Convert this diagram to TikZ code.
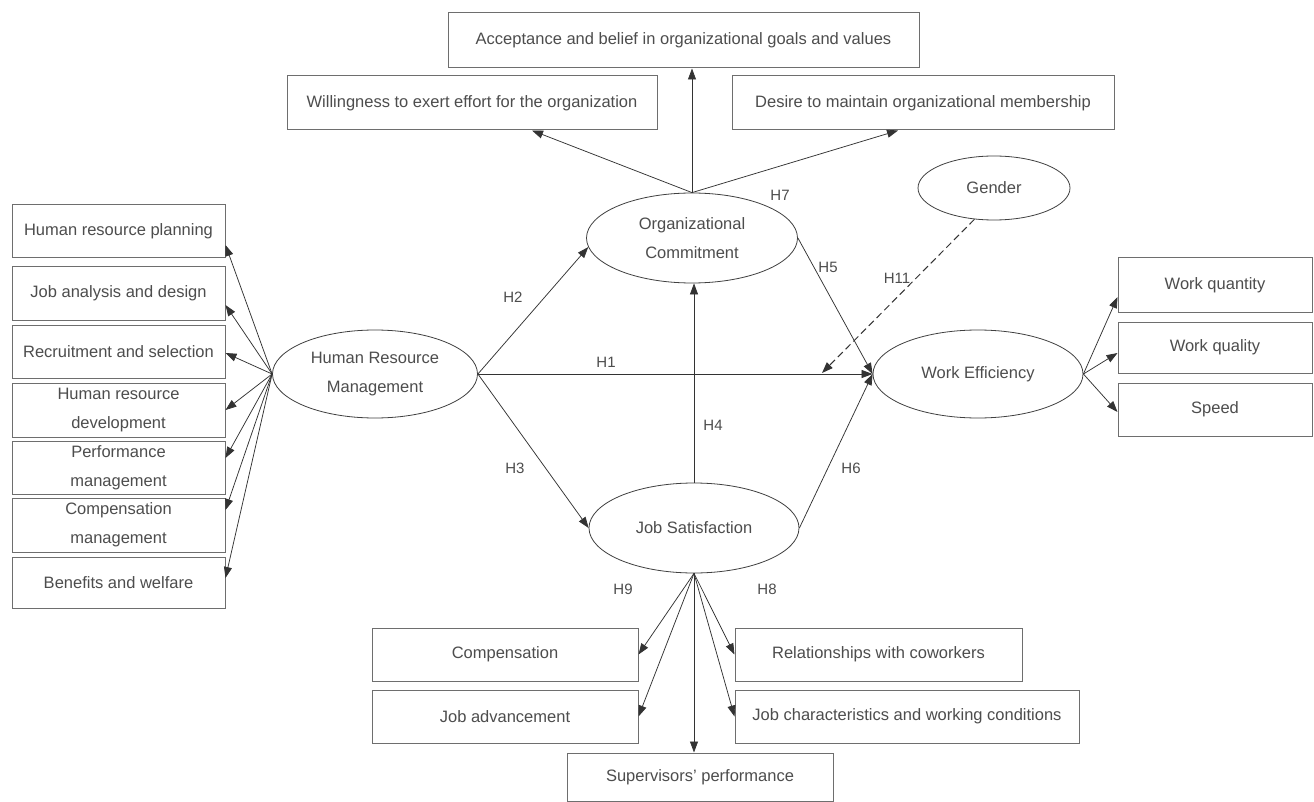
\documentclass[tikz,border=0pt]{standalone}
\usepackage{fontspec}
\setmainfont{Liberation Sans}
\usetikzlibrary{arrows.meta, shapes.geometric}

\definecolor{txtgray}{HTML}{4D4D4D}
\definecolor{linegray}{HTML}{6E6E6E}

\begin{document}
\begin{tikzpicture}[x=1pt, y=-1pt,
    font=\fontsize{16.5}{29}\selectfont, text=txtgray,
    box/.style={draw=linegray, line width=1pt, rectangle, inner sep=0pt, align=center},
    latent/.style={draw=black!75, line width=0.8pt, ellipse, inner sep=0pt, align=center},
    hyp/.style={-{Triangle[length=11pt, width=8pt]}, draw=black!80, line width=0.75pt},
    hlabel/.style={inner sep=0pt, font=\fontsize{15}{18}\selectfont}]
			\useasboundingbox (0,0) rectangle (1314,802);
			\fill[white] (0,0) rectangle (1314,802);
			
			% Latent variables
			\node[latent, minimum width=205, minimum height=88] (hrm) at (375,374) {Human Resource\\Management};
			\node[latent, minimum width=211, minimum height=90] (oc) at (692,238) {Organizational\\Commitment};
			\node[latent, minimum width=210, minimum height=90] (js) at (694,528) {Job Satisfaction};
			\node[latent, minimum width=210, minimum height=88] (we) at (978,374) {Work Efficiency};
			\node[latent, minimum width=152, minimum height=64] (gender) at (994,188) {Gender};
			
			% Commitment indicators
			\node[box, minimum width=471, minimum height=55] (accept) at (683.5,40.5) {Acceptance and belief in organizational goals and values};
			\node[box, minimum width=370, minimum height=54] (willing) at (472,103) {Willingness to exert effort for the organization};
			\node[box, minimum width=382, minimum height=54] (desire) at (923,103) {Desire to maintain organizational membership};
			
			% HRM indicators
			\node[box, minimum width=213, minimum height=53] (hrp) at (118.5,231.5) {Human resource planning};
			\node[box, minimum width=213, minimum height=53] (jad) at (118.5,293.5) {Job analysis and design};
			\node[box, minimum width=213, minimum height=53] (rs) at (118.5,351.5) {Recruitment and selection};
			\node[box, minimum width=213, minimum height=54] (hrd) at (118.5,410) {Human resource\\development};
			\node[box, minimum width=213, minimum height=53] (pm) at (118.5,467.5) {Performance\\management};
			\node[box, minimum width=213, minimum height=54] (cm) at (118.5,525) {Compensation\\management};
			\node[box, minimum width=213, minimum height=51] (bw) at (118.5,582.5) {Benefits and welfare};
			
			% Efficiency indicators
			\node[box, minimum width=194, minimum height=54] (wqn) at (1215,285) {Work quantity};
			\node[box, minimum width=194, minimum height=51] (wql) at (1215,347.5) {Work quality};
			\node[box, minimum width=194, minimum height=53] (spd) at (1215,409.5) {Speed};
			
			% Satisfaction indicators
			\node[box, minimum width=266, minimum height=53] (comp) at (505,654.5) {Compensation};
			\node[box, minimum width=266, minimum height=53] (jadv) at (505,716.5) {Job advancement};
			\node[box, minimum width=287, minimum height=53] (rel) at (878.5,654.5) {Relationships with coworkers};
			\node[box, minimum width=344, minimum height=53] (jchar) at (907,716.5) {Job characteristics and working conditions};
			\node[box, minimum width=266, minimum height=48] (sup) at (700,777) {Supervisors' performance};
			
			% Structural paths
			\draw[hyp] (hrm.east) -- (we.west);
			\draw[hyp] (hrm.east) -- (oc.185);
			\draw[hyp] (hrm.east) -- (js.west);
			\draw[hyp] (js.north) -- (js.north |- oc.south);
			\draw[hyp] (oc.east) -- (we.west);
			\draw[hyp] (js.east) -- (we.west);
			
			% Moderator
			\coordinate (h11end) at (822,373);
			\draw[hyp, dashed, dash pattern=on 7pt off 4pt, line width=1pt] (gender.238) -- (h11end);
			
			% Measurement arrows
			\foreach \b/\s in {hrp/-13.5, jad/-11.5, rs/-1.5, hrd/0, pm/9.5, cm/15, bw/4.5}
				\draw[hyp] (hrm.west) -- ([yshift=\s pt]\b.east);
			\draw[hyp] (oc.north) -- ([xshift=60pt]willing.south);
			\draw[hyp] (oc.north) -- (oc.north |- accept.south);
			\draw[hyp] (oc.north) -- ([xshift=-25pt]desire.south);
			\foreach \b/\s in {wqn/-12, wql/-5.5, spd/-2.5}
				\draw[hyp] (we.east) -- ([yshift=\s pt]\b.west);
			\draw[hyp] (js.south) -- (comp.east);
			\draw[hyp] (js.south) -- (jadv.east);
			\draw[hyp] (js.south) -- (js.south |- sup.north);
			\draw[hyp] (js.south) -- (rel.west);
			\draw[hyp] (js.south) -- (jchar.west);
			
			% Hypothesis labels
			\node[hlabel] (lh1) at (606,362) {H1};
			\node[hlabel] (lh2) at (513,297) {H2};
			\node[hlabel] (lh3) at (515,468) {H3};
			\node[hlabel] (lh4) at (713,425) {H4};
			\node[hlabel] (lh5) at (828,267) {H5};
			\node[hlabel] (lh6) at (851,468) {H6};
			\node[hlabel] (lh7) at (780,195) {H7};
			\node[hlabel] (lh8) at (767,589) {H8};
			\node[hlabel] (lh9) at (623,589) {H9};
			\node[hlabel] (lh11) at (897,278) {H11};
		\end{tikzpicture}
\end{document}
